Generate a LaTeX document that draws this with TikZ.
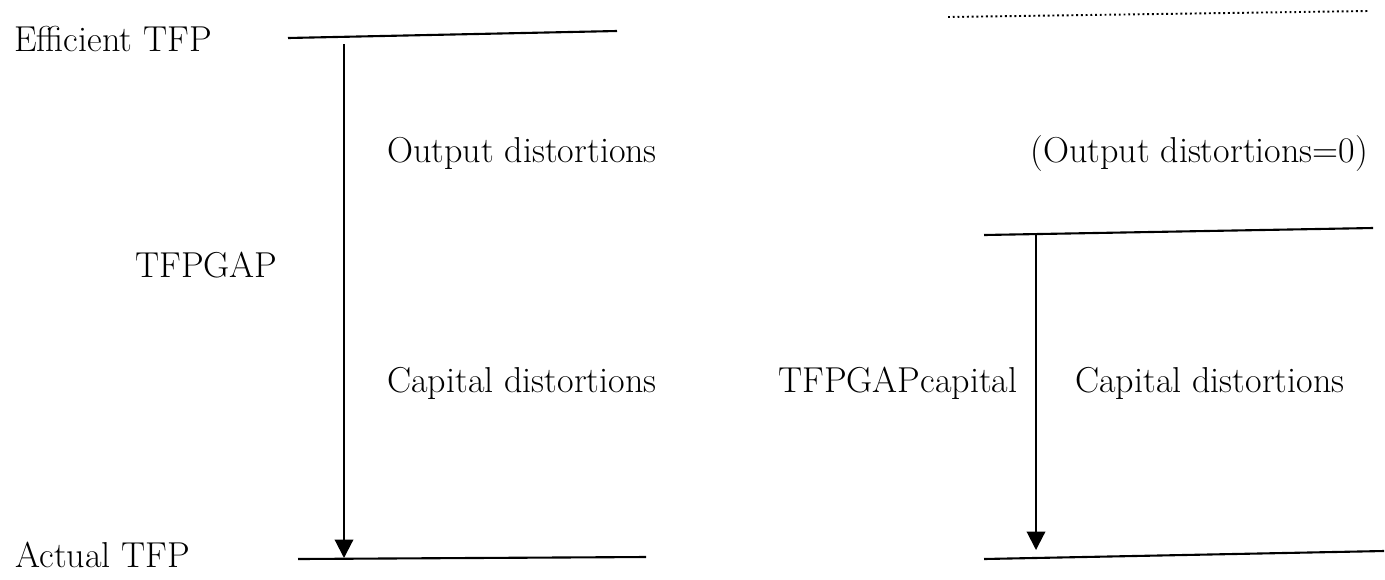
\documentclass[tikz,border=0pt]{standalone}
\usepackage{tikz}
\usetikzlibrary{arrows.meta}

\begin{document}
\begin{tikzpicture}
[x=0.02cm,y=-0.02cm,%
  levelLine/.style={-,line width=1.2pt},%
  zeroLine/.style={-,line width=1.1pt,dash pattern=on 1.1pt off 1.6pt},%
  gapArrow/.style={-{Triangle[width=0.37cm,length=0.37cm]},line width=1.2pt},%
  labelDecorate/.style={anchor=base west,inner sep=0pt,font=\fontsize{20.5}{24}\selectfont}]
\useasboundingbox (0,0) rectangle (1385,579);
%% labels
\foreach \nodename/\x/\y/\txt in {effTFP/14/51/{Efficient TFP}, outDist/387/162/{Output distortions},
  outZero/1030/162/{(Output distortions=0)}, gap/135/277/{TFPGAP},
  capDistL/387/392/{Capital distortions}, gapCap/778/392/{TFPGAPcapital},
  capDistR/1075/392/{Capital distortions}, actTFP/15/567/{Actual TFP}}
{
  \node (\nodename) at (\x,\y) [labelDecorate] {\txt};
}
%% end points of the levels and arrows
\foreach \cname/\x/\y in {effL/288/38, effR/617/31, actL/298/559, actR/646/557,
  effCapL/948/17, effCapR/1368/11, midL/984/235, midR/1373/228,
  actCapL/984/559, actCapR/1384/551,
  gapTop/344/44, gapBot/344/558, capTop/1036/234, capBot/1036/550}
{
  \coordinate (\cname) at (\x,\y);
}
%% levels
\path
\foreach \startnode/\endnode in {effL/effR, actL/actR, midL/midR, actCapL/actCapR}
{
  (\startnode) edge[levelLine] (\endnode)
};
\draw[zeroLine] (effCapL) -- (effCapR);
%% gaps
\draw[gapArrow] (gapTop) -- (gapBot);
\draw[gapArrow] (capTop) -- (capBot);
\end{tikzpicture}
\end{document}
